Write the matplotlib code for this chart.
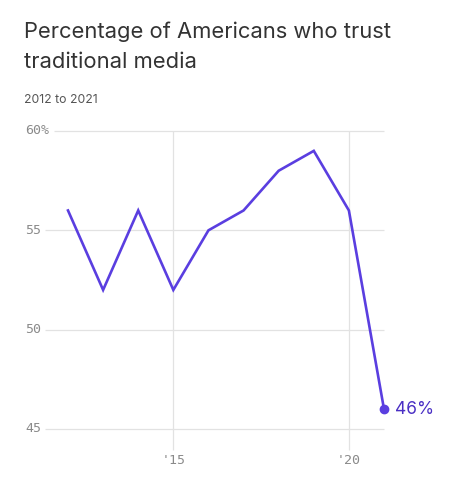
import matplotlib.pyplot as plt

# Datos
years = [2012, 2013, 2014, 2015, 2016, 2017, 2018, 2019, 2020, 2021]
trust = [56, 52, 56, 52, 55, 56, 58, 59, 56, 46]
y_ticks = [45, 50, 55, 60]
y_labels = ['45', '50', '55', '60%']
x_ticks = [2015, 2020]
x_labels = ["'15", "'20"]

title = 'Percentage of Americans who trust\ntraditional media'
subtitle = '2012 to 2021'

purple = '#5a3ee0'
grid_c = '#e2e2e2'
tick_c = '#8a8a8a'
mono = 'DejaVu Sans Mono'

W, H = 456, 500
fig = plt.figure(figsize=(W / 100, H / 100), dpi=100)
fig.patch.set_facecolor('white')

# Ejes: 2012 -> x=68px, 2021 -> x=384px ; 60 -> y=131px, 45 -> y=429px
ax = fig.add_axes([68 / W, 1 - 429 / H, (384 - 68) / W, (429 - 131) / H])
ax.set_xlim(2012, 2021)
ax.set_ylim(45, 60)
ax.axis('off')

px_x = (2021 - 2012) / (384 - 68)
px_y = (60 - 45) / (429 - 131)

# Grilla horizontal y etiquetas
for v, lab in zip(y_ticks, y_labels):
    start = 2012 - (68 - (54 if '%' in lab else 45)) * px_x
    ax.hlines(v, start, 2021, color=grid_c, lw=0.9, clip_on=False, zorder=1)
    ax.text(2012 - (68 - 25) * px_x, v, lab, ha='left', va='center',
            fontsize=9.5, color=tick_c, family=mono)

# Grilla vertical y etiquetas
for v, lab in zip(x_ticks, x_labels):
    ax.vlines(v, 45 - 21 * px_y, 60, color=grid_c, lw=0.9, clip_on=False, zorder=1)
    ax.text(v, 45 - 32 * px_y, lab, ha='center', va='center',
            fontsize=9.5, color=tick_c, family=mono)

# Serie
ax.plot(years, trust, color=purple, lw=1.9, clip_on=False, zorder=3,
        solid_joinstyle='miter')
ax.plot(years[-1], trust[-1], 'o', color=purple, ms=6, clip_on=False, zorder=4)
ax.text(years[-1] + 11 * px_x, trust[-1], f'{trust[-1]}%', ha='left', va='center',
        fontsize=12.5, color='#4a2fc4', family='Inter')

# Títulos
fig.text(24 / W, 1 - 22 / H, title, ha='left', va='top', fontsize=15.8,
         color='#333333', family='Inter', linespacing=1.62)
fig.text(24 / W, 1 - 100 / H, subtitle, ha='left', va='center', fontsize=8.8,
         color='#555555', family='Inter')

fig.savefig('out.png', dpi=100)
